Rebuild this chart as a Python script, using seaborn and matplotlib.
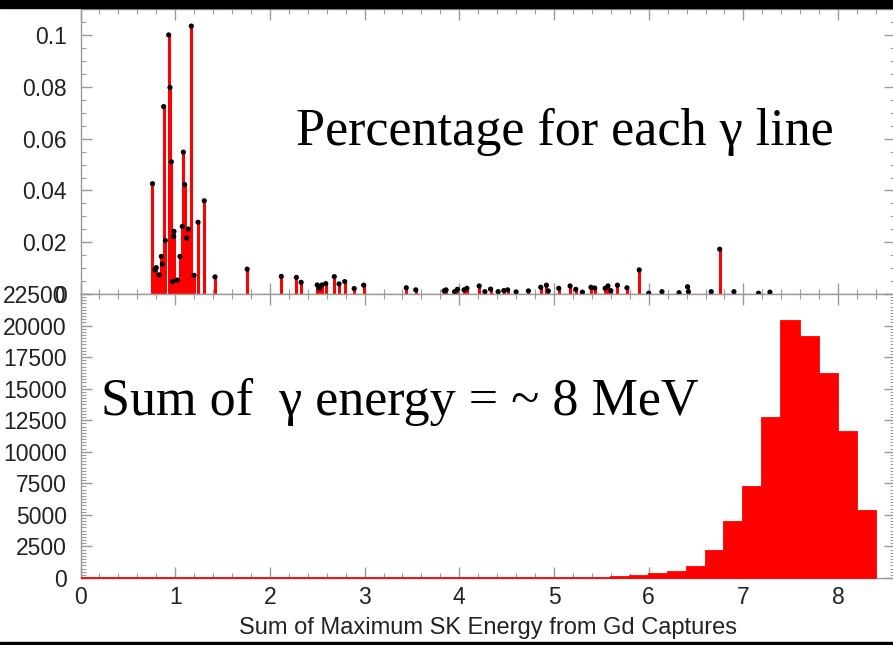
import numpy as np
import pandas as pd
import matplotlib
matplotlib.use("Agg")
import matplotlib.pyplot as plt
from matplotlib.ticker import MultipleLocator, FuncFormatter
import seaborn as sns

# Gd capture gamma lines: energy (MeV) and fraction per line
line_energy = [
    0.76, 0.787, 0.80, 0.83, 0.853, 0.864, 0.878, 0.896, 0.931, 0.945,
    0.959, 0.973, 0.984, 0.987, 1.022, 1.05, 1.075, 1.086, 1.10, 1.121,
    1.138, 1.17, 1.20, 1.241, 1.307, 1.42, 1.76, 2.12, 2.28, 2.33,
    2.50, 2.52, 2.55, 2.59, 2.68, 2.73, 2.79, 2.89, 2.99, 3.44,
    3.54, 3.84, 3.86, 3.95, 3.98, 4.05, 4.08, 4.21, 4.27, 4.33,
    4.41, 4.47, 4.51, 4.60, 4.73, 4.86, 4.92, 4.94, 5.05, 5.17,
    5.23, 5.30, 5.39, 5.43, 5.54, 5.57, 5.60, 5.67, 5.77, 5.90,
    6.00, 6.14, 6.32, 6.41, 6.42, 6.66, 6.75, 6.90, 7.16, 7.28,
]
line_fraction = [
    0.0426, 0.0093, 0.0102, 0.0074, 0.0145, 0.0115, 0.0724, 0.0207, 0.1001, 0.0798,
    0.0511, 0.0048, 0.0222, 0.0242, 0.0054, 0.0145, 0.0261, 0.0548, 0.0423, 0.0216,
    0.0251, 0.1035, 0.0072, 0.0277, 0.0360, 0.0066, 0.0096, 0.0068, 0.0064, 0.0045,
    0.0035, 0.0022, 0.0035, 0.0040, 0.0067, 0.0039, 0.0048, 0.0021, 0.0034, 0.0024,
    0.0016, 0.0012, 0.0016, 0.0009, 0.0018, 0.0016, 0.0022, 0.0031, 0.0009, 0.0019,
    0.0009, 0.0013, 0.0016, 0.0008, 0.0012, 0.0026, 0.0034, 0.0012, 0.0022, 0.0031,
    0.0018, 0.0007, 0.0026, 0.0023, 0.0022, 0.0031, 0.0013, 0.0034, 0.0024, 0.0093,
    0.0003, 0.0009, 0.0005, 0.0028, 0.0009, 0.0009, 0.0173, 0.0009, 0.0003, 0.0007,
]

# Summed energy spectrum, 0.2 MeV bins from 0 to 8.4 MeV
bin_width = 0.2
sum_counts = [
    0, 0, 0, 0, 0, 0, 0, 0, 0, 0,
    0, 0, 0, 0, 0, 0, 0, 0, 0, 0,
    0, 0, 0, 0, 0, 0, 0, 0, 60, 160,
    320, 500, 900, 2170, 4420, 7170, 12680, 20340, 19100, 16190,
    11530, 5340,
]

xtick_major = [0, 1, 2, 3, 4, 5, 6, 7, 8]
x_label = "Sum of Maximum SK Energy from Gd Captures"
top_note = "Percentage for each γ line"
bottom_note = "Sum of  γ energy = ~ 8 MeV"

sns.set_style("white")
plt.rcParams["font.family"] = ["Liberation Sans", "DejaVu Sans"]

RED = "#ff0000"
GREY = "#9a9a9a"
TXT = "#222222"
SERIF = ["Liberation Serif", "DejaVu Serif"]

fig = plt.figure(figsize=(8.93, 6.45), dpi=100)
left = 80.5 / 893
width = 8.6 * 94.7 / 893
ax1 = fig.add_axes([left, 0.5442, width, 0.4414])
ax2 = fig.add_axes([left, 0.1039, width, 0.4403])

# --- upper panel: individual gamma lines ---
ax1.vlines(line_energy, 0, line_fraction, color=RED, linewidth=2.2, zorder=2)
sns.scatterplot(x=line_energy, y=line_fraction, ax=ax1, color="black",
                s=14, edgecolor="none", zorder=3, legend=False)
ax1.set_xlim(0, 8.6)
ax1.set_ylim(0, 0.1100)
ax1.yaxis.set_major_locator(MultipleLocator(0.02))
ax1.yaxis.set_minor_locator(MultipleLocator(0.005))
ax1.yaxis.set_major_formatter(
    FuncFormatter(lambda v, p: f"{v:.2f}".rstrip("0").rstrip(".") if abs(v) > 1e-9 else "0"))
ax1.xaxis.set_major_locator(MultipleLocator(1))
ax1.xaxis.set_minor_locator(MultipleLocator(0.2))
ax1.tick_params(axis="x", which="both", labelbottom=False)

# --- lower panel: summed energy histogram ---
edges = [round(i * bin_width, 3) for i in range(len(sum_counts) + 1)]
hist_df = pd.DataFrame({
    "energy": [e + bin_width / 2 for e in edges[:-1]],
    "count": sum_counts,
})
sns.histplot(data=hist_df, x="energy", weights="count", bins=edges, ax=ax2,
             color=RED, alpha=1.0, edgecolor=RED, linewidth=1.3)
for patch in ax2.patches:
    patch.set_clip_on(False)
    patch.set_zorder(3)
ax2.set_xlim(0, 8.6)
ax2.set_ylim(0, 22500)
ax2.set_xticks(xtick_major)
ax2.xaxis.set_minor_locator(MultipleLocator(0.2))
ax2.yaxis.set_major_locator(MultipleLocator(2500))
ax2.yaxis.set_minor_locator(MultipleLocator(250))
ax2.yaxis.set_major_formatter(FuncFormatter(lambda v, p: f"{int(round(v))}"))
ax2.set_ylabel("")
ax2.set_xlabel(x_label, fontsize=17, color=TXT)
ax2.xaxis.set_label_coords(0.5, -(617.5 - 578) / 284)

for ax in (ax1, ax2):
    for s in ax.spines.values():
        s.set_color(GREY)
        s.set_linewidth(1.0)
    ax.tick_params(which="both", direction="in", top=True, right=True,
                   bottom=True, left=True, color=GREY, labelsize=16.5,
                   labelcolor=TXT)
    ax.tick_params(which="major", length=8, width=1.0)
    ax.tick_params(which="minor", length=3.6, width=0.8)
    ax.tick_params(axis="y", pad=10)
    ax.tick_params(axis="x", pad=5.8)
    ax.set_facecolor("white")

fig.text(296 / 893, 1 - 145 / 645, top_note, fontsize=37.5, color="black",
         family=SERIF, va="baseline", ha="left")
fig.text(101 / 893, 1 - 415 / 645, bottom_note, fontsize=37.5, color="black",
         family=SERIF, va="baseline", ha="left")

# black borders at the top and bottom of the frame
fig.patches.append(plt.Rectangle((0, 1 - 8 / 645), 1, 8 / 645,
                                 transform=fig.transFigure, color="black", zorder=10))
fig.patches.append(plt.Rectangle((0, 0), 1, 3.5 / 645,
                                 transform=fig.transFigure, color="black", zorder=10))

fig.savefig("out.png", dpi=100, facecolor="white")
